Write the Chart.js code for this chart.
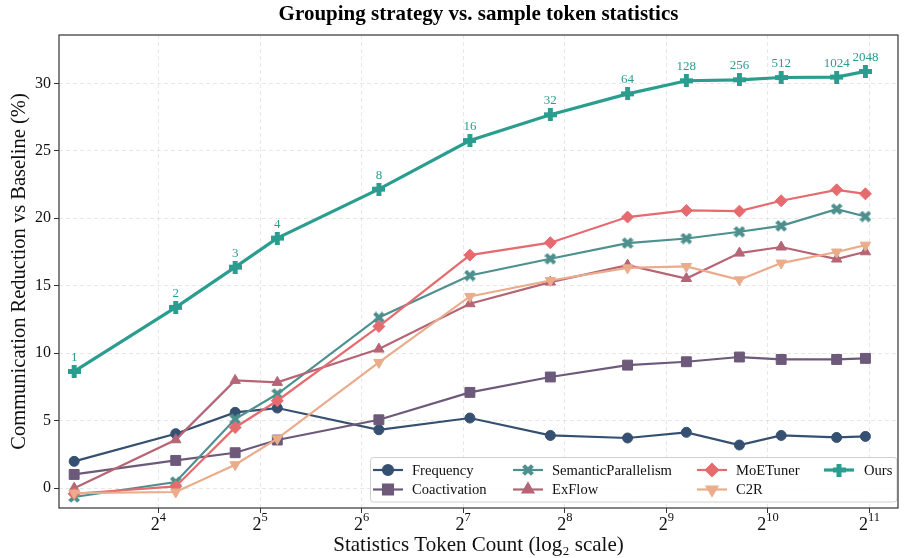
<!DOCTYPE html>
<html>
<head>
<meta charset="utf-8">
<script src="https://cdn.jsdelivr.net/npm/chart.js@4.4.1/dist/chart.umd.min.js"></script>
<style>
  html, body { margin: 0; padding: 0; background: #fff; }
  #wrap { width: 906px; height: 558px; }
</style>
</head>
<body>
<div id="wrap"><canvas id="chart" width="906" height="558"></canvas></div>
<script>
// x = statistics token count, one point per grouping setting
const tokenCounts = [9, 18, 27, 36, 72, 134, 232, 393, 587, 843, 1121, 1637, 1992];
// labels printed above the "Ours" points
const groupLabels = ['1', '2', '3', '4', '8', '16', '32', '64', '128', '256', '512', '1024', '2048'];

const frequency   = [1.99, 4.04, 5.62, 5.94, 4.33, 5.20, 3.91, 3.72, 4.14, 3.20, 3.91, 3.76, 3.84];
const coactivation = [1.02, 2.06, 2.63, 3.57, 5.07, 7.10, 8.24, 9.12, 9.37, 9.72, 9.54, 9.54, 9.62];
const semantic    = [-0.65, 0.46, 5.12, 6.98, 12.65, 15.76, 17.00, 18.16, 18.50, 19.00, 19.44, 20.68, 20.13];
const exflow      = [0.00, 3.59, 7.99, 7.84, 10.31, 13.67, 15.27, 16.53, 15.54, 17.42, 17.87, 16.98, 17.52];
const moetuner    = [-0.41, 0.13, 4.50, 6.48, 11.99, 17.27, 18.19, 20.09, 20.58, 20.53, 21.30, 22.11, 21.81];
const c2r         = [-0.36, -0.28, 1.74, 3.67, 9.32, 14.21, 15.39, 16.33, 16.43, 15.44, 16.68, 17.50, 18.01];
const ours        = [8.65, 13.40, 16.38, 18.53, 22.16, 25.76, 27.67, 29.22, 30.19, 30.26, 30.43, 30.46, 30.88];

const xTicks = [16, 32, 64, 128, 256, 512, 1024, 2048];
const yTicks = [0, 5, 10, 15, 20, 25, 30];

const FONT = "'Liberation Serif', 'Times New Roman', serif";

// filled plus / X markers like matplotlib 'P' and 'X'
function makeMarker(shape, color, size) {
  const c = document.createElement('canvas');
  c.width = size; c.height = size;
  const g = c.getContext('2d');
  g.fillStyle = color;
  const m = size / 2;
  if (shape === 'plus') {
    const t = size * 0.38;
    g.fillRect(m - t / 2, 0, t, size);
    g.fillRect(0, m - t / 2, size, t);
  } else {
    const t = size * 0.34, a = size * 0.52;
    g.translate(m, m);
    g.rotate(Math.PI / 4);
    g.fillRect(-a, -t / 2, 2 * a, t);
    g.fillRect(-t / 2, -a, t, 2 * a);
  }
  return c;
}

const xMarker = makeMarker('x', '#4d908e', 12);
const plusMarker = makeMarker('plus', '#2a9d8f', 13);

function series(label, data, color, style, radius, extra) {
  return Object.assign({
    label: label,
    data: data.map((v, i) => ({ x: tokenCounts[i], y: v })),
    borderColor: color,
    backgroundColor: color,
    pointBackgroundColor: color,
    pointBorderColor: color,
    borderWidth: 2.2,
    pointBorderWidth: 1,
    pointStyle: style,
    pointRadius: radius,
    pointHoverRadius: radius,
    tension: 0
  }, extra || {});
}

const datasets = [
  series('Frequency', frequency, '#355070', 'circle', 5, { order: 7 }),
  series('Coactivation', coactivation, '#6d597a', 'rect', 7, { order: 6 }),
  series('SemanticParallelism', semantic, '#4d908e', xMarker, 6, { order: 5 }),
  series('ExFlow', exflow, '#b56576', 'triangle', 6, { order: 4 }),
  series('MoETuner', moetuner, '#e56b6f', 'rectRot', 6, { order: 3 }),
  series('C2R', c2r, '#eaac8b', 'triangle', 6, { order: 2, pointRotation: 180 }),
  series('Ours', ours, '#2a9d8f', plusMarker, 7, { order: 1, borderWidth: 3.2 })
];

const framePlugin = {
  id: 'frame',
  afterDatasetsDraw(chart) {
    const ctx = chart.ctx;
    const a = chart.chartArea;
    // labels above "Ours"
    const meta = chart.getDatasetMeta(6);
    ctx.save();
    ctx.font = '13px ' + FONT;
    ctx.fillStyle = '#2a9d8f';
    ctx.textAlign = 'center';
    ctx.textBaseline = 'middle';
    meta.data.forEach((pt, i) => {
      ctx.fillText(groupLabels[i], pt.x, pt.y - 14);
    });
    ctx.restore();

    // legend box, 4 columns x 2 rows
    const colLine = [373, 513, 697, 824];
    const colText = [412, 552, 736, 864];
    const rows = [470, 489.5];
    ctx.save();
    ctx.beginPath();
    const bx = 370.5, by = 457.5, bw = 526.5, bh = 44.5, r = 3;
    ctx.moveTo(bx + r, by);
    ctx.arcTo(bx + bw, by, bx + bw, by + bh, r);
    ctx.arcTo(bx + bw, by + bh, bx, by + bh, r);
    ctx.arcTo(bx, by + bh, bx, by, r);
    ctx.arcTo(bx, by, bx + bw, by, r);
    ctx.closePath();
    ctx.fillStyle = 'rgba(255,255,255,0.85)';
    ctx.fill();
    ctx.strokeStyle = '#d0d0d0';
    ctx.lineWidth = 1;
    ctx.stroke();
    chart.data.datasets.forEach((ds, i) => {
      const col = Math.floor(i / 2), row = i % 2;
      const y = rows[row];
      const x0 = colLine[col], x1 = x0 + 30;
      ctx.strokeStyle = ds.borderColor;
      ctx.fillStyle = ds.borderColor;
      ctx.lineWidth = ds.borderWidth;
      ctx.beginPath();
      ctx.moveTo(x0, y);
      ctx.lineTo(x1, y);
      ctx.stroke();
      Chart.helpers.drawPoint(ctx, {
        pointStyle: ds.pointStyle,
        rotation: ds.pointRotation || 0,
        radius: ds.pointRadius,
        borderWidth: 1
      }, (x0 + x1) / 2, y);
      ctx.fillStyle = '#111';
      ctx.font = '14.6px ' + FONT;
      ctx.textAlign = 'left';
      ctx.textBaseline = 'middle';
      ctx.fillText(ds.label, colText[col], y + 1);
    });
    ctx.restore();

    // frame
    ctx.save();
    ctx.strokeStyle = '#333';
    ctx.lineWidth = 1.2;
    ctx.strokeRect(a.left, a.top, a.right - a.left, a.bottom - a.top);
    ctx.restore();

    // x tick labels as 2 with a raised exponent
    const xs = chart.scales.x;
    ctx.save();
    ctx.fillStyle = '#111';
    ctx.textAlign = 'left';
    ctx.textBaseline = 'alphabetic';
    xTicks.forEach(v => {
      const px = xs.getPixelForValue(v);
      const exp = String(Math.round(Math.log2(v)));
      ctx.font = '18px ' + FONT;
      const wb = ctx.measureText('2').width;
      ctx.font = '12.5px ' + FONT;
      const we = ctx.measureText(exp).width;
      const x0 = px - (wb + we) / 2;
      ctx.font = '18px ' + FONT;
      ctx.fillText('2', x0, a.bottom + 22);
      ctx.font = '12.5px ' + FONT;
      ctx.fillText(exp, x0 + wb, a.bottom + 13);
    });
    ctx.restore();

    // title
    ctx.save();
    ctx.font = 'bold 21px ' + FONT;
    ctx.fillStyle = '#000';
    ctx.textAlign = 'center';
    ctx.textBaseline = 'middle';
    ctx.fillText('Grouping strategy vs. sample token statistics', (a.left + a.right) / 2, 15);
    ctx.restore();
  }
};

const gridOpts = {
  color: 'rgba(0,0,0,0.12)',
  lineWidth: 0.8,
  tickLength: 5,
  tickColor: '#333',
  tickWidth: 1
};

new Chart(document.getElementById('chart').getContext('2d'), {
  type: 'line',
  data: { datasets: datasets },
  plugins: [framePlugin],
  options: {
    responsive: false,
    animation: false,
    devicePixelRatio: 1,
    layout: { padding: { top: 35, right: 3, left: 0, bottom: 0 } },
    plugins: {
      legend: { display: false },
      title: { display: false },
      tooltip: { enabled: false }
    },
    scales: {
      x: {
        type: 'logarithmic',
        min: 8.115,
        max: 2488,
        afterBuildTicks: s => { s.ticks = xTicks.map(v => ({ value: v })); },
        afterFit: s => { s.height = 50; },
        ticks: {
          autoSkip: false,
          maxRotation: 0,
          callback: () => ''
        },
        grid: gridOpts,
        border: { display: false, dash: [4, 3] },
        title: {
          display: true,
          text: 'Statistics Token Count (log\u2082 scale)',
          color: '#111',
          font: { family: FONT, size: 21, lineHeight: 1.2 },
          padding: { top: 0, bottom: 0 }
        }
      },
      y: {
        min: -1.466,
        max: 33.58,
        afterBuildTicks: s => { s.ticks = yTicks.map(v => ({ value: v })); },
        afterFit: s => { s.width = 59; },
        ticks: {
          padding: 3,
          color: '#111',
          font: { family: FONT, size: 16 }
        },
        grid: gridOpts,
        border: { display: false, dash: [4, 3] },
        title: {
          display: true,
          text: 'Communication Reduction vs Baseline (%)',
          color: '#111',
          font: { family: FONT, size: 20.5, lineHeight: 1.2 },
          padding: { top: 7, bottom: 0 }
        }
      }
    }
  }
});
</script>
</body>
</html>
